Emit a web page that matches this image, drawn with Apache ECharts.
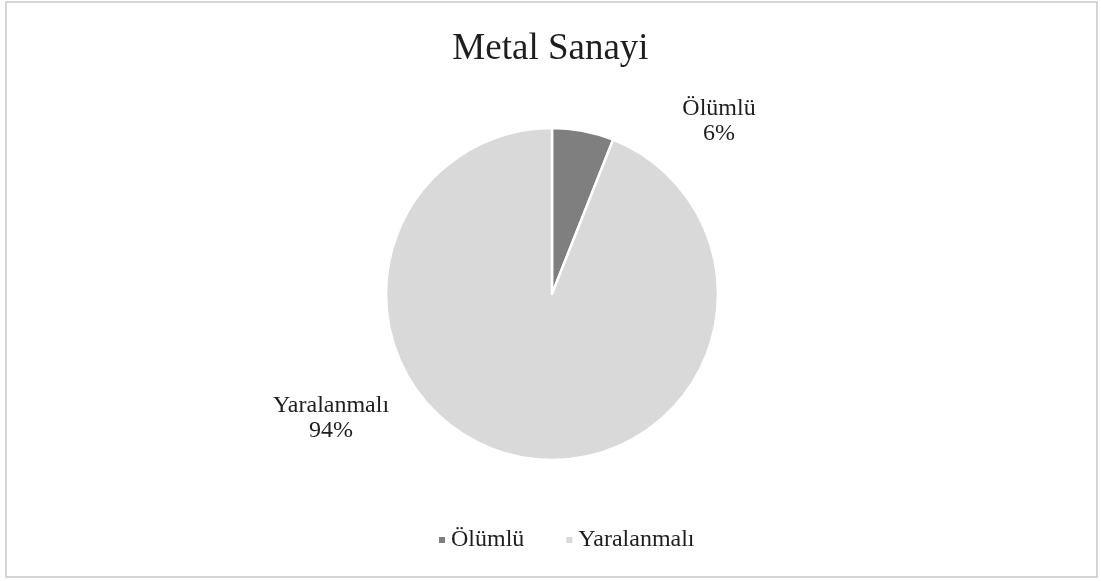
<!DOCTYPE html>
<html>
<head>
<meta charset="utf-8">
<script src="https://cdn.jsdelivr.net/npm/echarts@6/dist/echarts.min.js"></script>
<style>
html, body { margin: 0; padding: 0; background: #fff; }
#chart { width: 1101px; height: 581px; }
</style>
</head>
<body>
<div id="chart"></div>
<script>
const titleText = 'Metal Sanayi';
const categories = ['Ölümlü', 'Yaralanmalı'];
const values = [6, 94];
const colors = ['#7f7f7f', '#d9d9d9'];

const serif = "'Liberation Serif', 'Times New Roman', serif";
// label block centres
const labelSpots = [[719, 121], [331, 418]];

let chart = echarts.init(document.getElementById('chart'));
chart.setOption({
    animation: false,
    backgroundColor: '#fff',
    color: colors,
    title: {
        text: titleText,
        left: 'center',
        top: 26,
        textStyle: { fontFamily: serif, fontSize: 37, fontWeight: 'normal', color: '#1e1e1e' }
    },
    legend: {
        bottom: 24,
        left: 432,
        itemWidth: 8,
        itemHeight: 8,
        itemGap: 40,
        icon: 'rect',
        data: categories,
        textStyle: { fontFamily: serif, fontSize: 24, color: '#1e1e1e' }
    },
    graphic: [{
        type: 'rect',
        shape: { x: 6, y: 2, width: 1091, height: 575 },
        style: { fill: 'none', stroke: '#c8c8c8', lineWidth: 1.5 },
        silent: true
    }],
    series: [{
        type: 'pie',
        center: [552, 294],
        radius: 166,
        startAngle: 90,
        clockwise: true,
        itemStyle: { borderColor: '#fff', borderWidth: 2.5 },
        label: {
            show: true,
            formatter: '{b}\n{d}%',
            fontFamily: serif,
            fontSize: 24,
            lineHeight: 25,
            color: '#1e1e1e',
            align: 'center'
        },
        labelLine: { show: false },
        labelLayout: function (p) {
            const s = labelSpots[p.dataIndex];
            return { x: s[0], y: s[1], align: 'center', verticalAlign: 'middle' };
        },
        emphasis: { disabled: true },
        data: categories.map((c, i) => ({ name: c, value: values[i] }))
    }]
});
</script>
</body>
</html>
